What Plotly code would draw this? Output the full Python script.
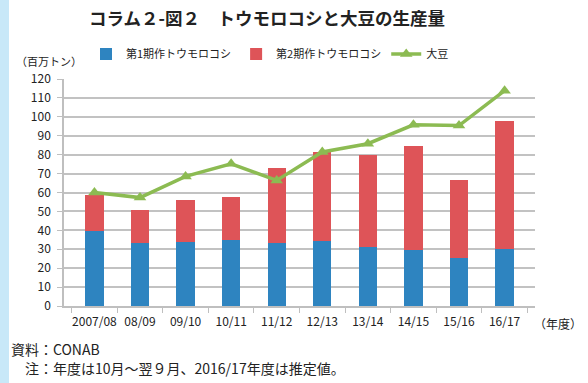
import plotly.graph_objects as go

categories = ["2007/08", "08/09", "09/10", "10/11", "11/12", "12/13", "13/14", "14/15", "15/16", "16/17"]
first_crop = [39.8, 33.5, 34.0, 34.9, 33.5, 34.4, 31.4, 29.8, 25.6, 30.3]
total_corn = [58.6, 50.8, 56.1, 57.5, 72.9, 81.5, 79.9, 84.7, 66.5, 97.6]
second_crop = [round(t - f, 1) for t, f in zip(total_corn, first_crop)]
soybean = [60.0, 57.3, 68.5, 75.2, 66.4, 81.4, 85.8, 95.8, 95.4, 113.8]
y_ticks = list(range(0, 121, 10))

FONT = "Noto Sans CJK JP"
BLUE = "#2e84c0"
RED = "#de5458"
GREEN = "#8cbb52"
PW, PH = 471, 227

fig = go.Figure()
fig.add_trace(go.Bar(x=categories, y=first_crop, name="第1期作トウモロコシ",
                     marker=dict(color=BLUE, line=dict(width=0)), width=0.4))
fig.add_trace(go.Bar(x=categories, y=second_crop, name="第2期作トウモロコシ",
                     marker=dict(color=RED, line=dict(width=0)), width=0.4))
fig.add_trace(go.Scatter(x=categories, y=soybean, name="大豆", mode="lines+markers",
                         line=dict(color=GREEN, width=3.5),
                         marker=dict(symbol="triangle-up", size=11, color=GREEN)))

fig.update_layout(
    barmode="stack",
    width=588, height=383,
    margin=dict(l=64, r=53, t=79, b=77, autoexpand=False),
    paper_bgcolor="white", plot_bgcolor="white",
    font=dict(family=FONT, size=12, color="#222"),
    showlegend=True,
    legend=dict(orientation="h", x=(86-64)/PW, xanchor="left", y=1+(79-54)/PH, yanchor="middle",
                font=dict(size=11, family=FONT), itemwidth=30, tracegroupgap=0,
                bgcolor="rgba(0,0,0,0)", traceorder="normal"),
    xaxis=dict(type="category", showgrid=False, showline=True, linecolor="#bfbfbf", linewidth=1.5,
               ticks="outside", tickson="boundaries", ticklen=5, tickcolor="#bfbfbf", tickangle=0,
               ticklabelstandoff=4,
               automargin=False, tickfont=dict(size=12, color="#222"), fixedrange=True),
    yaxis=dict(range=[0, 120], tickvals=y_ticks, showgrid=True, gridcolor="#c2c2c2", gridwidth=1.5,
               showline=True, linecolor="#bfbfbf", linewidth=1.5, ticks="outside", ticklen=5,
               ticklabelstandoff=4,
               automargin=False, tickcolor="#bfbfbf", tickfont=dict(size=12, color="#222"), zeroline=False),
    shapes=[dict(type="rect", xref="paper", yref="paper", x0=-64/PW, x1=-55/PW, y0=-77/PH, y1=1+79/PH,
                 fillcolor="#c8e8f8", line=dict(width=0), layer="below")],
    annotations=[
        dict(text="<b>コラム２-図２　トウモロコシと大豆の生産量</b>", xref="paper", yref="paper",
             x=(267-64)/PW, y=1+(79-17)/PH, xanchor="center", yanchor="middle", showarrow=False,
             font=dict(size=17.5, family=FONT, color="#222")),
        dict(text="（百万トン）", xref="paper", yref="paper", x=-50/PW, y=1+(79-61)/PH,
             xanchor="left", yanchor="middle", showarrow=False, font=dict(size=11, family=FONT, color="#222")),
        dict(text="（年度）", xref="paper", yref="paper", x=(532-64)/PW, y=-(323-306)/PH,
             xanchor="left", yanchor="middle", showarrow=False, font=dict(size=12, family=FONT, color="#222")),
        dict(text="資料：CONAB", xref="paper", yref="paper", x=-55/PW, y=-(349-306)/PH,
             xanchor="left", yanchor="middle", showarrow=False, font=dict(size=14, family=FONT, color="#222")),
        dict(text="　注：年度は10月～翌９月、2016/17年度は推定値。", xref="paper", yref="paper", x=-55/PW,
             y=-(368-306)/PH, xanchor="left", yanchor="middle", showarrow=False,
             font=dict(size=14, family=FONT, color="#222")),
    ],
)

fig.write_html("out.html", config={"displayModeBar": False},
               post_script="document.body.style.margin='0';document.body.style.overflow='hidden';")
